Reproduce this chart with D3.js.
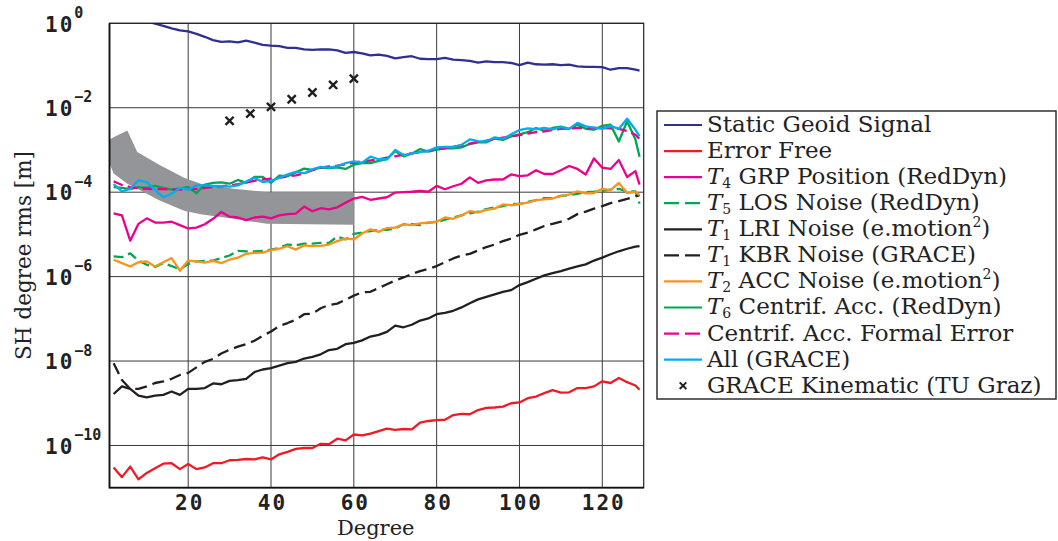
<!DOCTYPE html>
<html>
<head>
<meta charset="utf-8">
<script src="https://cdn.jsdelivr.net/npm/d3@7"></script>
<style>
  body { margin: 0; background: #fff; }
</style>
</head>
<body>
<div id="chart"></div>
<script>
// SH degrees (x axis samples)
var degrees = [2,4,6,8,10,12,14,16,18,20,
  22,24,26,28,30,32,34,36,38,40,
  42,44,46,48,50,52,54,56,58,60,
  62,64,66,68,70,72,74,76,78,80,
  82,84,86,88,90,92,94,96,98,100,
  102,104,106,108,110,112,114,116,118,120,
  122,124,126,128,129];

// degree rms, stored as log10(value in m)
var geoidLog = [null,null,null,null,0.05,-0.01,-0.06,-0.12,-0.17,-0.19,
  -0.25,-0.32,-0.40,-0.44,-0.43,-0.45,-0.41,-0.46,-0.51,-0.53,
  -0.54,-0.58,-0.58,-0.62,-0.63,-0.62,-0.62,-0.64,-0.70,-0.68,
  -0.71,-0.76,-0.74,-0.77,-0.83,-0.80,-0.78,-0.84,-0.85,-0.85,
  -0.82,-0.86,-0.87,-0.89,-0.93,-0.90,-0.92,-0.92,-0.94,-0.99,
  -0.93,-0.97,-0.98,-0.97,-0.99,-0.98,-1.02,-1.03,-1.03,-1.04,
  -1.10,-1.06,-1.06,-1.10,-1.12];

var errorFreeLog = [-10.52,-10.75,-10.50,-10.80,-10.65,-10.54,-10.43,-10.42,-10.56,-10.44,
  -10.56,-10.52,-10.42,-10.42,-10.35,-10.34,-10.32,-10.33,-10.28,-10.33,
  -10.21,-10.15,-10.08,-10.06,-10.06,-9.96,-9.97,-9.84,-9.88,-9.74,
  -9.76,-9.72,-9.66,-9.60,-9.63,-9.61,-9.62,-9.46,-9.42,-9.40,
  -9.39,-9.28,-9.25,-9.26,-9.16,-9.11,-9.10,-9.08,-9.00,-8.98,
  -8.88,-8.84,-8.76,-8.69,-8.75,-8.74,-8.64,-8.64,-8.60,-8.48,
  -8.52,-8.40,-8.50,-8.58,-8.68];

var grpLog = [-4.50,-4.55,-5.15,-4.75,-4.62,-4.72,-4.72,-4.70,-4.78,-4.86,
  -4.84,-4.76,-4.63,-4.47,-4.58,-4.60,-4.66,-4.60,-4.58,-4.62,
  -4.55,-4.52,-4.51,-4.34,-4.45,-4.38,-4.41,-4.36,-4.25,-4.15,
  -4.11,-4.18,-4.15,-4.12,-4.01,-4.00,-3.99,-3.97,-3.99,-3.85,
  -3.93,-3.86,-3.80,-3.65,-3.78,-3.72,-3.70,-3.70,-3.58,-3.62,
  -3.60,-3.48,-3.57,-3.57,-3.48,-3.38,-3.45,-3.58,-3.20,-3.42,
  -3.45,-3.24,-3.64,-3.50,-3.82];

var losLog = [-5.52,-5.54,-5.45,-5.62,-5.72,-5.77,-5.68,-5.75,-5.83,-5.70,
  -5.64,-5.63,-5.62,-5.56,-5.50,-5.39,-5.40,-5.40,-5.39,-5.36,
  -5.32,-5.24,-5.26,-5.22,-5.22,-5.20,-5.20,-5.05,-5.12,-4.99,
  -4.96,-4.92,-4.89,-4.89,-4.86,-4.76,-4.76,-4.78,-4.72,-4.71,
  -4.65,-4.60,-4.55,-4.50,-4.46,-4.40,-4.36,-4.33,-4.28,-4.28,
  -4.23,-4.19,-4.14,-4.14,-4.09,-4.07,-4.04,-4.00,-3.99,-3.97,
  -3.94,-3.92,-3.98,-3.98,-4.27];

var lriLog = [-8.78,-8.60,-8.66,-8.82,-8.86,-8.82,-8.80,-8.72,-8.80,-8.66,
  -8.66,-8.64,-8.53,-8.55,-8.47,-8.45,-8.42,-8.26,-8.20,-8.17,
  -8.11,-8.05,-8.02,-7.94,-7.90,-7.84,-7.74,-7.71,-7.60,-7.57,
  -7.51,-7.42,-7.38,-7.31,-7.16,-7.20,-7.14,-7.04,-6.99,-6.89,
  -6.86,-6.81,-6.73,-6.63,-6.54,-6.48,-6.42,-6.36,-6.32,-6.20,
  -6.13,-6.05,-5.97,-5.92,-5.87,-5.81,-5.76,-5.71,-5.62,-5.55,
  -5.47,-5.40,-5.34,-5.29,-5.28];

var kbrLog = [-8.05,-8.45,-8.66,-8.66,-8.60,-8.52,-8.48,-8.42,-8.33,-8.28,
  -8.15,-8.02,-7.95,-7.82,-7.73,-7.66,-7.60,-7.52,-7.40,-7.30,
  -7.17,-7.10,-7.02,-6.89,-6.88,-6.75,-6.67,-6.64,-6.55,-6.45,
  -6.37,-6.36,-6.27,-6.18,-6.09,-6.02,-5.94,-5.87,-5.82,-5.75,
  -5.66,-5.57,-5.50,-5.46,-5.38,-5.30,-5.24,-5.16,-5.10,-5.01,
  -4.96,-4.88,-4.80,-4.75,-4.70,-4.63,-4.52,-4.46,-4.39,-4.33,
  -4.26,-4.21,-4.16,-4.10,-4.07];

var accLog = [-5.60,-5.68,-5.76,-5.66,-5.64,-5.76,-5.66,-5.56,-5.86,-5.62,
  -5.64,-5.67,-5.63,-5.68,-5.60,-5.55,-5.46,-5.44,-5.43,-5.37,
  -5.34,-5.28,-5.36,-5.26,-5.28,-5.27,-5.24,-5.16,-5.10,-5.12,
  -4.98,-4.88,-4.94,-4.85,-4.84,-4.76,-4.78,-4.74,-4.72,-4.70,
  -4.60,-4.63,-4.55,-4.45,-4.48,-4.42,-4.39,-4.29,-4.31,-4.28,
  -4.25,-4.19,-4.17,-4.15,-4.09,-4.06,-3.98,-4.03,-4.02,-3.92,
  -3.95,-3.78,-4.02,-3.99,-4.07];

var centrifLog = [-3.88,-3.90,-3.93,-3.88,-3.90,-3.85,-3.90,-3.94,-3.91,-3.88,
  -4.02,-3.82,-3.78,-3.77,-3.80,-3.71,-3.78,-3.64,-3.64,-3.78,
  -3.61,-3.62,-3.53,-3.44,-3.47,-3.42,-3.43,-3.41,-3.45,-3.35,
  -3.31,-3.31,-3.26,-3.22,-3.03,-3.15,-3.09,-2.98,-3.04,-2.99,
  -2.96,-2.96,-2.94,-2.86,-2.82,-2.82,-2.73,-2.76,-2.68,-2.63,
  -2.58,-2.48,-2.55,-2.48,-2.45,-2.50,-2.40,-2.50,-2.52,-2.43,
  -2.40,-2.80,-2.32,-2.75,-3.16];

var formalLog = [-3.74,-3.83,-3.88,-3.91,-3.92,-3.93,-3.93,-3.94,-3.94,-3.93,
  -3.92,-3.90,-3.88,-3.86,-3.84,-3.81,-3.77,-3.73,-3.70,-3.68,
  -3.66,-3.63,-3.60,-3.56,-3.48,-3.42,-3.39,-3.37,-3.34,-3.30,
  -3.27,-3.25,-3.22,-3.18,-3.15,-3.11,-3.08,-3.05,-3.02,-2.99,
  -2.96,-2.92,-2.89,-2.85,-2.81,-2.78,-2.74,-2.71,-2.68,-2.65,
  -2.61,-2.58,-2.56,-2.53,-2.50,-2.49,-2.48,-2.48,-2.48,-2.48,
  -2.49,-2.50,-2.55,-2.64,-2.74];

var allLog = [-3.81,-3.98,-3.92,-3.72,-3.76,-3.95,-4.12,-4.04,-3.90,-3.94,
  -3.84,-3.84,-3.85,-3.86,-3.87,-3.84,-3.75,-3.66,-3.76,-3.73,
  -3.66,-3.58,-3.52,-3.55,-3.46,-3.40,-3.42,-3.39,-3.31,-3.27,
  -3.30,-3.16,-3.22,-3.22,-3.00,-3.12,-3.08,-3.05,-3.02,-2.94,
  -2.93,-2.93,-2.88,-2.75,-2.79,-2.80,-2.70,-2.74,-2.63,-2.53,
  -2.49,-2.51,-2.48,-2.51,-2.46,-2.50,-2.36,-2.44,-2.47,-2.50,
  -2.43,-2.50,-2.26,-2.52,-2.68];

// GRACE kinematic solution (markers)
var kinDegrees = [30,35,40,45,50,55,60];
var kinLog = [-2.31,-2.14,-1.98,-1.80,-1.64,-1.46,-1.31];

// grey band
var bandDegrees = [1,2,5.3,7.7,13,19,23,31,39,60];
var bandUpperLog = [-2.75,-2.70,-2.54,-3.05,-3.35,-3.66,-3.80,-3.92,-4.00,-4.00];
var bandLowerLog = [-3.32,-3.56,-3.80,-3.92,-4.19,-4.44,-4.52,-4.63,-4.75,-4.77];

// ticks
var xTicks = [20,40,60,80,100,120];
var yTickExp = [-10,-8,-6,-4,-2,0];

var legendNames = ["Static Geoid Signal", "Error Free", "T4 GRP Position (RedDyn)",
  "T5 LOS Noise (RedDyn)", "T1 LRI Noise (e.motion^2)", "T1 KBR Noise (GRACE)",
  "T2 ACC Noise (e.motion^2)", "T6 Centrif. Acc. (RedDyn)", "Centrif. Acc. Formal Error",
  "All (GRACE)", "GRACE Kinematic (TU Graz)"];

var series = [
  {vals: geoidLog, color: "#2e3192", dash: null},
  {vals: errorFreeLog, color: "#ed1c24", dash: null},
  {vals: grpLog, color: "#ec008c", dash: null},
  {vals: losLog, color: "#00a651", dash: "10,5"},
  {vals: lriLog, color: "#231f20", dash: null},
  {vals: kbrLog, color: "#231f20", dash: "12,6"},
  {vals: accLog, color: "#f7941d", dash: null},
  {vals: centrifLog, color: "#00a651", dash: null},
  {vals: formalLog, color: "#ec008c", dash: "10,5"},
  {vals: allLog, color: "#00aeef", dash: null}
];

var tickFont = "'DejaVu Sans Mono', monospace";
var textFont = "'DejaVu Serif', serif";

// set the dimensions and margins of the graph
var margin = {top: 23.3, left: 109.5},
    width = 534.2,
    height = 464.4;

var svg = d3.select("#chart")
  .append("svg")
    .attr("width", 1058)
    .attr("height", 541);

var g = svg.append("g")
    .attr("transform", "translate(" + margin.left + "," + margin.top + ")");

var x = d3.scaleLinear().domain([1, 130]).range([0, width]);
var y = d3.scaleLog().domain([1e-11, 1]).range([height, 0]);
function yl(v) { return y(Math.pow(10, v)); }

g.append("clipPath").attr("id", "plotclip")
  .append("rect").attr("width", width).attr("height", height);

// grid
g.append("g").selectAll("line")
  .data(xTicks).enter().append("line")
    .attr("x1", function(d) { return x(d); }).attr("x2", function(d) { return x(d); })
    .attr("y1", 0).attr("y2", height)
    .attr("stroke", "#3a3a3a").attr("stroke-width", 1);
g.append("g").selectAll("line")
  .data(yTickExp).enter().append("line")
    .attr("x1", 0).attr("x2", width)
    .attr("y1", function(d) { return yl(d); }).attr("y2", function(d) { return yl(d); })
    .attr("stroke", "#3a3a3a").attr("stroke-width", 1);

var plot = g.append("g").attr("clip-path", "url(#plotclip)");

// grey band
var area = d3.area()
  .x(function(d, i) { return x(bandDegrees[i]); })
  .y0(function(d, i) { return yl(bandLowerLog[i]); })
  .y1(function(d, i) { return yl(bandUpperLog[i]); });
plot.append("path")
  .datum(bandDegrees)
  .attr("d", area)
  .attr("fill", "#939598");

// lines
var line = d3.line()
  .defined(function(d) { return d != null; })
  .x(function(d, i) { return x(degrees[i]); })
  .y(function(d) { return yl(d); });

series.forEach(function(s) {
  plot.append("path")
    .datum(s.vals)
    .attr("d", line)
    .attr("fill", "none")
    .attr("stroke", s.color)
    .attr("stroke-width", 2.3)
    .attr("stroke-linejoin", "round")
    .attr("stroke-dasharray", s.dash);
});

// kinematic markers
var cross = d3.symbol().type(d3.symbolX).size(45);
plot.append("g").selectAll("path")
  .data(kinLog).enter().append("path")
    .attr("d", cross)
    .attr("transform", function(d, i) { return "translate(" + x(kinDegrees[i]) + "," + yl(d) + ")"; })
    .attr("fill", "none")
    .attr("stroke", "#231f20")
    .attr("stroke-width", 2.4);

// frame
g.append("rect")
  .attr("width", width).attr("height", height)
  .attr("fill", "none").attr("stroke", "#222").attr("stroke-width", 1.2);
g.append("path")
  .attr("d", "M0,0V" + height + "H" + width)
  .attr("fill", "none").attr("stroke", "#111").attr("stroke-width", 1.8);

// Add X axis labels
var xAxis = g.append("g")
  .attr("transform", "translate(0," + height + ")")
  .call(d3.axisBottom(x).tickValues(xTicks).tickSize(0).tickPadding(7));
xAxis.select(".domain").remove();
xAxis.selectAll("text")
  .attr("font-family", tickFont)
  .attr("font-weight", "bold")
  .attr("font-size", 21)
  .attr("letter-spacing", 2)
  .attr("dx", 1)
  .attr("fill", "#222");

// Add Y axis labels (10^n)
var yAxis = g.append("g")
  .call(d3.axisLeft(y).tickValues(yTickExp.map(function(e) { return Math.pow(10, e); }))
    .tickSize(0).tickFormat(""));
yAxis.select(".domain").remove();
yAxis.selectAll(".tick").each(function(d, i) {
  var t = d3.select(this).append("text")
    .attr("x", 45 - margin.left)
    .attr("y", 7.7)
    .attr("text-anchor", "start")
    .attr("font-family", tickFont)
    .attr("font-weight", "bold")
    .attr("fill", "#222");
  t.append("tspan").attr("font-size", 21).attr("letter-spacing", 2).text("10");
  t.append("tspan").attr("font-size", 15).attr("dy", -13.7)
    .text(String(yTickExp[i]).replace("-", "\u2212"));
});

// axis titles
svg.append("text")
  .attr("x", 375.7).attr("y", 535)
  .attr("text-anchor", "middle")
  .attr("font-family", textFont).attr("font-size", 21)
  .attr("fill", "#222")
  .text("Degree");

svg.append("text")
  .attr("transform", "translate(31,255.5) rotate(-90)")
  .attr("text-anchor", "middle")
  .attr("font-family", textFont).attr("font-size", 21.5)
  .attr("fill", "#222")
  .text("SH degree rms [m]");

// legend
var legend = svg.append("g");
legend.append("rect")
  .attr("x", 657).attr("y", 111).attr("width", 399).attr("height", 288)
  .attr("fill", "#fff").attr("stroke", "#222").attr("stroke-width", 1.4);

legendNames.forEach(function(name, i) {
  var ly = 125 + i * 26.07;
  if (i < series.length) {
    legend.append("line")
      .attr("x1", 664).attr("x2", 702).attr("y1", ly).attr("y2", ly)
      .attr("stroke", series[i].color).attr("stroke-width", 2.2)
      .attr("stroke-dasharray", series[i].dash ? "15,6" : null);
  } else {
    legend.append("path")
      .attr("d", d3.symbol().type(d3.symbolX).size(30))
      .attr("transform", "translate(683," + ly + ")")
      .attr("fill", "none").attr("stroke", "#231f20").attr("stroke-width", 2);
  }
  var t = legend.append("text")
    .attr("x", 707).attr("y", ly + 7)
    .attr("font-family", textFont).attr("font-size", 23)
    .attr("fill", "#222");
  var m = name.match(/^T(\d) (.*)$/);
  var rest = name;
  if (m) {
    t.append("tspan").attr("font-style", "italic").text("T");
    t.append("tspan").attr("font-size", 14).attr("dy", 4).text(m[1]);
    rest = m[2];
    t.append("tspan").attr("dy", -4).text("\u00a0");
  }
  var parts = rest.split("^");
  t.append("tspan").text(parts[0]);
  if (parts.length > 1) {
    t.append("tspan").attr("font-size", 14).attr("dy", -9).text(parts[1].charAt(0));
    t.append("tspan").attr("dy", 9).text(parts[1].slice(1));
  }
});
</script>
</body>
</html>
